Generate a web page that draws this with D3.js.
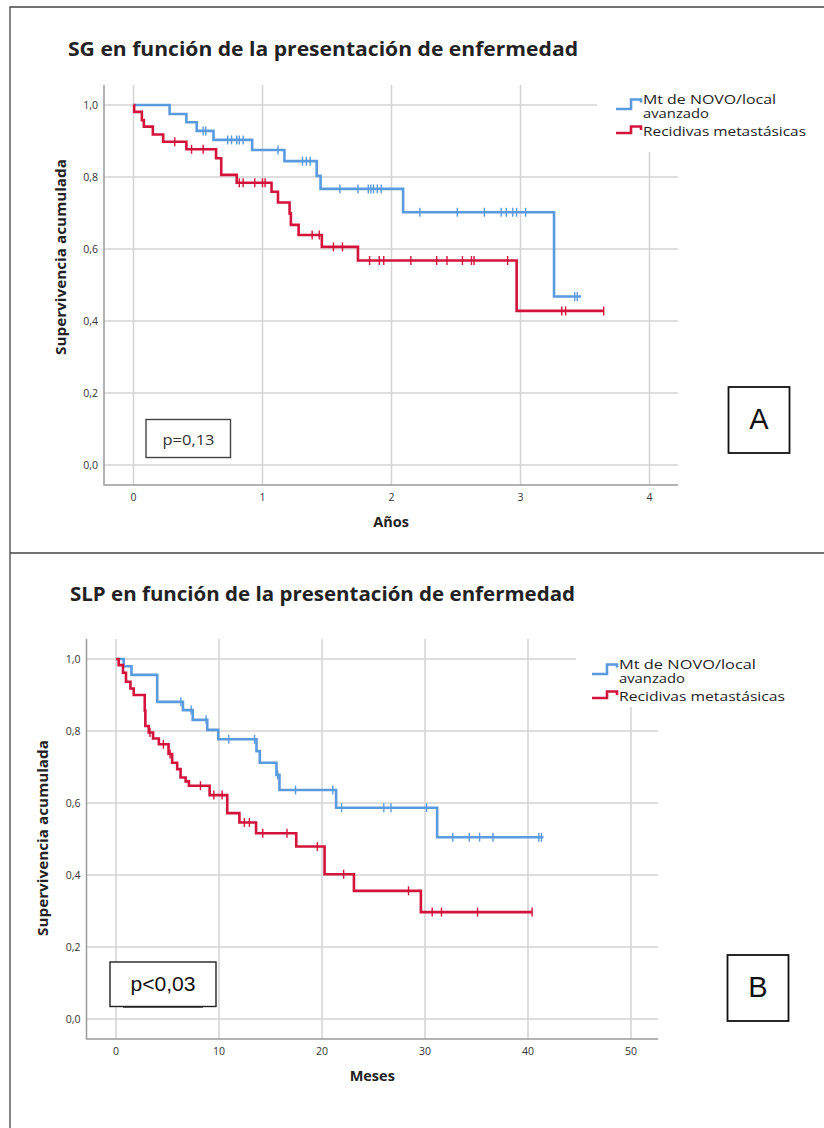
<!DOCTYPE html>
<html>
<head>
<meta charset="utf-8">
<script src="https://cdn.jsdelivr.net/npm/d3@7"></script>
<style>
  html, body { margin: 0; padding: 0; background: #fff; }
  svg { display: block; }
</style>
</head>
<body>
<svg id="chart" width="824" height="1128"></svg>
<script>
// ---------- Data ----------
// Each step: [time, cumulative survival right after the event]
const groupLabels = [["Mt de NOVO/local", "avanzado"], ["Recidivas metastásicas"]];
const groupColors = ["#5a9be0", "#d4133d"];

const yTicks = [0, 0.2, 0.4, 0.6, 0.8, 1.0];
const yTickLabels = ["0,0", "0,2", "0,4", "0,6", "0,8", "1,0"];

// SG (overall survival), time in years
const sgTitle = "SG en función de la presentación de enfermedad";
const sgXTicks = [0, 1, 2, 3, 4];
const sgXLabel = "Años";
const sgPValue = "p=0,13";
const sgNovoSteps = [[0.28, 0.975], [0.41, 0.952], [0.49, 0.928], [0.62, 0.903], [0.92, 0.875],
  [1.17, 0.844], [1.42, 0.803], [1.45, 0.767], [2.09, 0.702], [3.26, 0.468]];
const sgNovoEnd = 3.47;
const sgNovoCensored = [0.54, 0.56, 0.73, 0.76, 0.80, 0.82, 0.85, 1.12, 1.31, 1.34, 1.37, 1.60,
  1.74, 1.82, 1.84, 1.86, 1.89, 1.92, 2.22, 2.51, 2.72, 2.85, 2.89, 2.94, 2.97, 3.04, 3.42, 3.44];
const sgRecSteps = [[0.005, 0.981], [0.065, 0.958], [0.08, 0.940], [0.15, 0.918], [0.23, 0.898],
  [0.41, 0.877], [0.64, 0.852], [0.68, 0.806], [0.80, 0.784], [1.07, 0.759], [1.12, 0.729],
  [1.21, 0.699], [1.22, 0.667], [1.28, 0.639], [1.46, 0.606], [1.74, 0.568], [2.97, 0.428]];
const sgRecEnd = 3.645;
const sgRecCensored = [0.32, 0.45, 0.54, 0.82, 0.85, 0.94, 1.00, 1.02, 1.385, 1.44, 1.55, 1.62,
  1.83, 1.905, 1.94, 2.15, 2.35, 2.43, 2.55, 2.62, 2.64, 2.90, 3.32, 3.35, 3.645];

// SLP (progression-free survival), time in months
const slpTitle = "SLP en función de la presentación de enfermedad";
const slpXTicks = [0, 10, 20, 30, 40, 50];
const slpXLabel = "Meses";
const slpPValue = "p<0,03";
const slpNovoSteps = [[0.75, 0.980], [1.5, 0.956], [4.0, 0.881], [6.5, 0.858], [7.45, 0.831],
  [8.86, 0.803], [9.93, 0.777], [13.64, 0.744], [13.96, 0.712], [15.58, 0.678], [15.87, 0.636],
  [21.37, 0.587], [31.18, 0.505]];
const slpNovoEnd = 41.5;
const slpNovoCensored = [6.3, 7.3, 8.75, 10.95, 13.45, 15.7, 17.43, 21.05, 21.9, 26.0, 26.7,
  30.15, 32.7, 34.3, 35.3, 36.6, 41.05, 41.3];
const slpRecSteps = [[0.26, 0.983], [0.68, 0.962], [0.97, 0.937], [1.40, 0.918], [1.72, 0.900],
  [2.79, 0.857], [2.85, 0.814], [3.18, 0.796], [3.6, 0.779], [4.16, 0.763], [5.1, 0.736],
  [5.45, 0.712], [5.94, 0.694], [6.27, 0.671], [6.76, 0.660], [7.08, 0.648], [9.09, 0.622],
  [10.8, 0.572], [11.98, 0.546], [13.6, 0.516], [17.5, 0.479], [20.25, 0.402], [23.1, 0.356],
  [29.6, 0.297]];
const slpRecEnd = 40.4;
const slpRecCensored = [3.3, 4.6, 5.25, 8.2, 9.5, 10.3, 12.46, 12.95, 14.25, 16.6, 19.55, 22.1,
  28.4, 30.7, 31.6, 35.1, 40.4];

// ---------- Drawing ----------
const svg = d3.select("#chart");
svg.append("rect").attr("width", 824).attr("height", 1128).attr("fill", "#fff");

const FONT = "'Open Sans', 'DejaVu Sans', sans-serif";
const ARIAL = "'Liberation Sans', Arial, sans-serif";

// panel frames (open on the right)
svg.append("path").attr("d", "M824,7 H10 V1128 M10,553 H824")
  .attr("fill", "none").attr("stroke", "#444").attr("stroke-width", 1.3);

function survivalAt(steps, t) {
  let s = 1;
  for (const [tt, ss] of steps) if (tt <= t) s = ss;
  return s;
}

function drawPanel(cfg) {
  const g = svg.append("g");
  const x = d3.scaleLinear().domain([cfg.xTicks[0], cfg.xTicks[cfg.xTicks.length - 1]]).range(cfg.xRange);
  const y = d3.scaleLinear().domain([0, 1]).range(cfg.yRange);
  const f = cfg.frame;

  // title
  g.append("text").attr("x", cfg.titlePos[0]).attr("y", cfg.titlePos[1])
    .attr("font-family", FONT).attr("font-weight", 700).attr("font-size", 20)
    .attr("fill", "#222").attr("textLength", cfg.titleWidth).attr("lengthAdjust", "spacingAndGlyphs")
    .text(cfg.title);

  // grid
  g.append("g").selectAll("line").data(cfg.xTicks).join("line")
    .attr("x1", d => x(d)).attr("x2", d => x(d)).attr("y1", f.top).attr("y2", f.bottom)
    .attr("stroke", "#d3d3d3").attr("stroke-width", 1.5);
  g.append("g").selectAll("line").data(yTicks).join("line")
    .attr("x1", f.left).attr("x2", f.right).attr("y1", d => y(d)).attr("y2", d => y(d))
    .attr("stroke", "#d3d3d3").attr("stroke-width", 1.5);

  // legend backdrop hides the grid behind it
  g.append("rect").attr("x", cfg.legendBox[0]).attr("y", cfg.legendBox[1])
    .attr("width", cfg.legendBox[2]).attr("height", cfg.legendBox[3]).attr("fill", "#fff");

  // axes
  g.append("path").attr("d", `M${f.left},${f.top} V${f.bottom} H${f.right}`)
    .attr("fill", "none").attr("stroke", "#9a9a9a").attr("stroke-width", 1.5);

  // tick labels
  g.append("g").selectAll("text").data(yTicks).join("text")
    .attr("x", f.left - 6).attr("y", d => y(d) + 4).attr("text-anchor", "end")
    .attr("font-family", FONT).attr("font-size", 10.5).attr("fill", "#333")
    .text((d, i) => yTickLabels[i]);
  g.append("g").selectAll("text").data(cfg.xTicks).join("text")
    .attr("x", d => x(d)).attr("y", f.bottom + 16).attr("text-anchor", "middle")
    .attr("font-family", FONT).attr("font-size", 10.5).attr("fill", "#333")
    .text(d => d);

  // axis titles
  g.append("text").attr("x", (f.left + f.right) / 2 + cfg.xLabelShift).attr("y", f.bottom + 42)
    .attr("text-anchor", "middle").attr("font-family", FONT).attr("font-weight", 700)
    .attr("font-size", 14.5).attr("fill", "#222").text(cfg.xLabel);
  g.append("text").attr("transform", `translate(${cfg.yLabelPos[0]},${cfg.yLabelPos[1]}) rotate(-90)`)
    .attr("text-anchor", "middle").attr("font-family", FONT).attr("font-weight", 700)
    .attr("font-size", 13.5).attr("fill", "#222")
    .attr("textLength", 196).attr("lengthAdjust", "spacingAndGlyphs")
    .text("Supervivencia acumulada");

  // survival curves
  const line = d3.line().x(d => x(d[0])).y(d => y(d[1])).curve(d3.curveStepAfter);
  cfg.series.forEach((s, i) => {
    const pts = [[0, 1], ...s.steps, [s.end, s.steps[s.steps.length - 1][1]]];
    g.append("path").attr("d", line(pts)).attr("fill", "none")
      .attr("stroke", groupColors[i]).attr("stroke-width", 2.6).attr("stroke-linejoin", "miter");
    g.append("g").selectAll("line").data(s.censored).join("line")
      .attr("x1", d => x(d)).attr("x2", d => x(d))
      .attr("y1", d => y(survivalAt(s.steps, d)) - 4.5)
      .attr("y2", d => y(survivalAt(s.steps, d)) + 4.5)
      .attr("stroke", groupColors[i]).attr("stroke-width", 1.4);
  });

  // legend: blue entry wraps on two lines, icon centred on each entry
  const lg = g.append("g").attr("transform", `translate(${cfg.legendPos[0]},${cfg.legendPos[1]})`);
  const baselines = [-0.5, 31];
  const icons = [
    (b) => `M0,${b + 5} H15 V${b - 4.5} H25 V${b - 1.5}`,
    (b) => `M0,${b - 2.5} H15 V${b - 9} H25 V${b - 5.5}`
  ];
  groupLabels.forEach((lab, i) => {
    const b = baselines[i];
    lg.append("path").attr("d", icons[i](b))
      .attr("fill", "none").attr("stroke", groupColors[i]).attr("stroke-width", 2.6);
    const txt = lg.append("text").attr("font-family", FONT).attr("font-size", 12.8).attr("fill", "#222");
    lab.forEach((t, j) => {
      txt.append("tspan").attr("x", 27).attr("y", b + j * 13.5)
        .attr("textLength", cfg.legendW[i][j])
        .attr("lengthAdjust", "spacingAndGlyphs")
        .text(t);
    });
  });

  return g;
}

drawPanel({
  title: sgTitle, titlePos: [68, 56], titleWidth: 510,
  xTicks: sgXTicks, xRange: [133.5, 649.5], yRange: [465, 105],
  frame: { left: 104, right: 678, top: 85, bottom: 485 },
  xLabel: sgXLabel, xLabelShift: 0, yLabelPos: [66, 257],
  legendBox: [597, 80, 100, 72], legendPos: [616, 104.5], legendW: [[133, 66], [163]],
  series: [
    { steps: sgNovoSteps, end: sgNovoEnd, censored: sgNovoCensored },
    { steps: sgRecSteps, end: sgRecEnd, censored: sgRecCensored }
  ]
});

drawPanel({
  title: slpTitle, titlePos: [70, 601], titleWidth: 505,
  xTicks: slpXTicks, xRange: [116, 631], yRange: [1019, 659],
  frame: { left: 86.5, right: 658, top: 639, bottom: 1039 },
  xLabel: slpXLabel, xLabelShift: 0, yLabelPos: [48, 838],
  legendBox: [576, 636, 110, 71], legendPos: [592, 669.5], legendW: [[137, 66], [166]],
  series: [
    { steps: slpNovoSteps, end: slpNovoEnd, censored: slpNovoCensored },
    { steps: slpRecSteps, end: slpRecEnd, censored: slpRecCensored }
  ]
});

// p-value boxes
svg.append("rect").attr("x", 146).attr("y", 419.5).attr("width", 84.5).attr("height", 38)
  .attr("fill", "#fff").attr("stroke", "#444").attr("stroke-width", 1.4);
svg.append("text").attr("x", 188.5).attr("y", 444.5).attr("text-anchor", "middle")
  .attr("font-family", FONT).attr("font-size", 14).attr("fill", "#333")
  .attr("textLength", 52).attr("lengthAdjust", "spacingAndGlyphs").text(sgPValue);

svg.append("line").attr("x1", 123).attr("x2", 203).attr("y1", 1007.5).attr("y2", 1007.5)
  .attr("stroke", "#666").attr("stroke-width", 1);
svg.append("rect").attr("x", 110).attr("y", 962).attr("width", 106).attr("height", 44.5)
  .attr("fill", "#fff").attr("stroke", "#222").attr("stroke-width", 1.4);
svg.append("text").attr("x", 163).attr("y", 991).attr("text-anchor", "middle")
  .attr("font-family", ARIAL).attr("font-size", 20).attr("fill", "#111")
  .attr("textLength", 65).attr("lengthAdjust", "spacingAndGlyphs").text(slpPValue);

// panel letters
[["A", 728.5, 387], ["B", 727.5, 955]].forEach(([lab, bx, by]) => {
  svg.append("rect").attr("x", bx).attr("y", by).attr("width", 61).attr("height", 66)
    .attr("fill", "#fff").attr("stroke", "#111").attr("stroke-width", 1.8);
  svg.append("text").attr("x", bx + 30.5).attr("y", by + 42).attr("text-anchor", "middle")
    .attr("font-family", ARIAL).attr("font-size", 29).attr("fill", "#111").text(lab);
});
</script>
</body>
</html>
